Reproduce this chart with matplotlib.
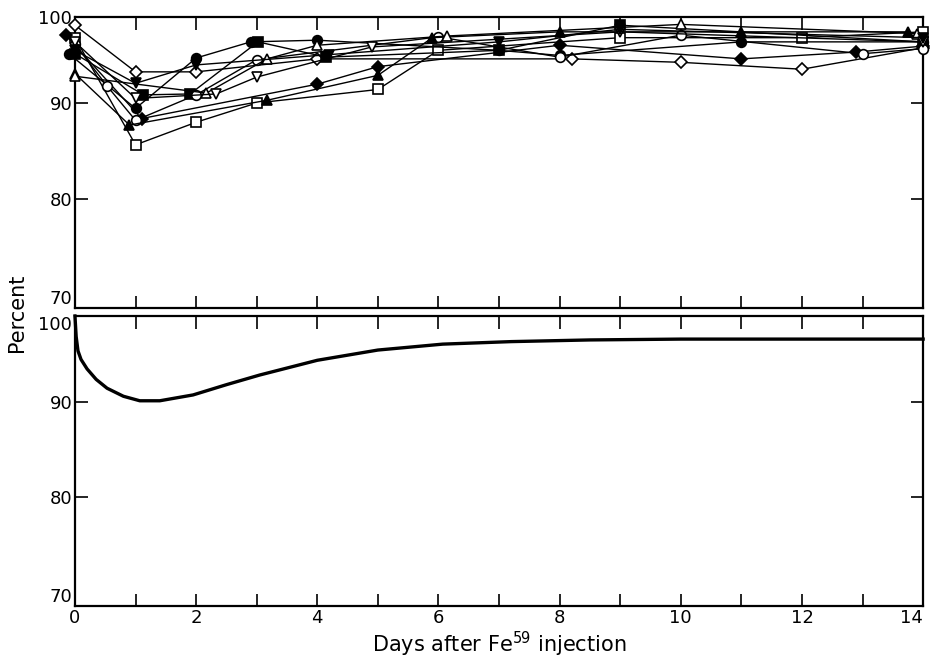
import matplotlib.pyplot as plt
from matplotlib.ticker import NullFormatter, NullLocator

# individual animals (top panel)
open_sq_days = [0, 1, 2, 3, 5, 6, 9, 12, 14]
open_sq_vals = [97.5, 85.5, 87.9, 90.0, 91.5, 96.0, 97.5, 97.5, 98.2]

open_dia_days = [0, 1, 2, 4, 8.2, 10, 12, 14]
open_dia_vals = [99.0, 93.5, 93.5, 95.0, 95.0, 94.6, 93.8, 96.3]

fill_dia_days = [-0.15, 1.1, 4, 5, 8, 11, 12.9, 14]
fill_dia_vals = [97.8, 88.3, 92.1, 94.1, 96.6, 95.0, 95.8, 96.5]

fill_circ_days = [-0.1, 1, 2, 2.9, 4, 7, 8, 11, 14]
fill_circ_vals = [95.6, 89.4, 95.1, 97.0, 97.2, 96.0, 95.4, 97.0, 97.0]

fill_sq_days = [0, 1.13, 1.9, 3.02, 4.15, 7, 9, 14]
fill_sq_vals = [95.6, 90.9, 91.0, 97.0, 95.2, 96.0, 99.0, 97.0]

open_circ_days = [0, 0.53, 1, 2, 3, 6, 8, 10, 13, 14]
open_circ_vals = [96.7, 91.9, 88.1, 90.9, 94.9, 97.6, 95.2, 97.8, 95.6, 96.2]

fill_tri_days = [0, 0.9, 3.17, 5, 5.9, 8, 11, 13.75]
fill_tri_vals = [93.3, 87.6, 90.3, 93.1, 97.5, 98.2, 98.2, 98.2]

open_tri_days = [0, 2.17, 3.17, 4, 6.14, 10, 13.9]
open_tri_vals = [93.0, 91.1, 95.0, 96.6, 97.7, 99.1, 98.0]

open_inv_days = [0, 1, 2.33, 3, 4.9, 9, 14]
open_inv_vals = [97.0, 90.5, 91.0, 92.9, 96.4, 98.2, 97.0]

fill_inv_days = [0, 1, 2, 4.2, 7, 9, 14]
fill_inv_vals = [96.0, 92.2, 94.3, 95.5, 97.0, 98.5, 97.5]

# mean curve (bottom panel)
curve_days = [0, 0.02, 0.05, 0.1, 0.2, 0.35, 0.53, 0.8, 1.07, 1.4, 1.95, 2.5,
              3.05, 4.0, 5.0, 6.07, 7.2, 8.5, 10, 12, 14]
curve_vals = [100, 97.5, 95.8, 94.8, 93.7, 92.5, 91.5, 90.6, 90.1, 90.1, 90.75,
              91.9, 93.0, 94.7, 95.9, 96.6, 96.9, 97.1, 97.2, 97.2, 97.2]

series = [
    (open_sq_days, open_sq_vals, "s", "white"),
    (open_dia_days, open_dia_vals, "D", "white"),
    (fill_dia_days, fill_dia_vals, "D", "black"),
    (fill_circ_days, fill_circ_vals, "o", "black"),
    (fill_sq_days, fill_sq_vals, "s", "black"),
    (open_circ_days, open_circ_vals, "o", "white"),
    (fill_tri_days, fill_tri_vals, "^", "black"),
    (open_tri_days, open_tri_vals, "^", "white"),
    (open_inv_days, open_inv_vals, "v", "white"),
    (fill_inv_days, fill_inv_vals, "v", "black"),
]

fig = plt.figure(figsize=(9.3, 6.65), dpi=100)
ax1 = fig.add_axes([0.0806, 0.5368, 0.912, 0.4376])
ax2 = fig.add_axes([0.0806, 0.0887, 0.912, 0.4361])

for days, vals, mk, face in series:
    ms = 6 if mk == "D" else 7
    ax1.plot(days, vals, color="black", lw=1.0, marker=mk, ms=ms,
             mfc=face, mec="black", mew=1.2, clip_on=False, zorder=3)

ax2.plot(curve_days, curve_vals, color="black", lw=2.4, clip_on=False)

for ax in (ax1, ax2):
    ax.set_yscale("log")
    ax.set_ylim(70, 100)
    ax.set_xlim(0, 14)
    ax.set_yticks([70, 80, 90, 100])
    ax.set_yticklabels(["70", "80", "90", "100"])
    ax.yaxis.set_minor_locator(NullLocator())
    ax.yaxis.set_minor_formatter(NullFormatter())
    ax.set_xticks(range(0, 15))
    ax.tick_params(direction="in", length=9, width=1.2, top=True, right=True,
                   labelsize=13, pad=2)
    for sp in ax.spines.values():
        sp.set_linewidth(1.6)

ax1.set_xticklabels([])
ax2.set_xticklabels([str(d) if d % 2 == 0 else "" for d in range(0, 15)])
ax2.set_xlabel("Days after Fe$^{59}$ injection", fontsize=15, labelpad=2)
fig.text(0.018, 0.53, "Percent", rotation=90, fontsize=15, va="center", ha="center")

# keep the edge labels of the two panels apart
ax1.get_yticklabels()[0].set_va("bottom")
ax2.get_yticklabels()[3].set_va("top")
ax2.get_yticklabels()[0].set_va("bottom")
ax2.get_xticklabels()[-1].set_ha("right")

fig.savefig("out.png", dpi=100)
